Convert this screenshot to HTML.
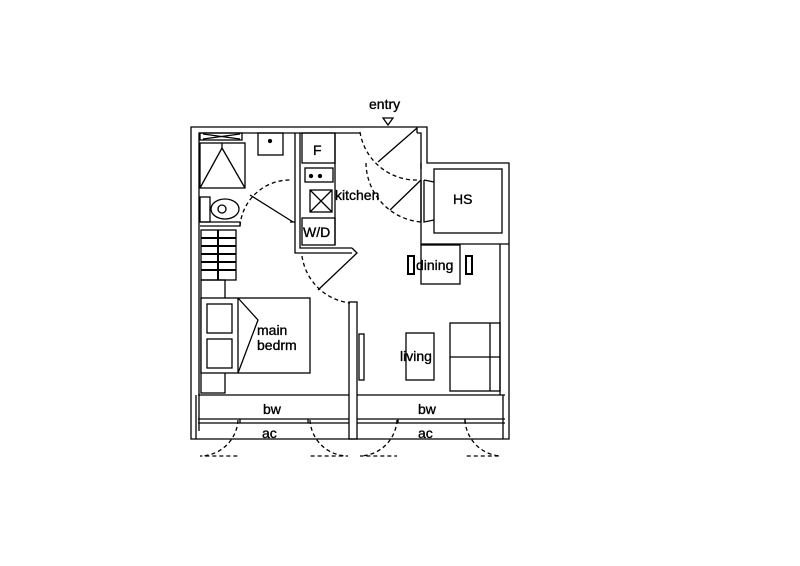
<!DOCTYPE html>
<html><head><style>
body{margin:0;background:#fff}
svg{display:block}
text{font-family:"Liberation Sans",Arial,sans-serif;font-size:14px;fill:#000;stroke:#000;stroke-width:0.35}
</style></head><body>
<svg width="800" height="566" viewBox="0 0 800 566" xmlns="http://www.w3.org/2000/svg">
<g fill="none" stroke="#000" stroke-width="1.3">
<path d="M191,439 V127 H427 V163 H509 V439 Z"/>
<path d="M199,431 V133 H360"/>
<path d="M417,133 H421 V245"/>
<path d="M421,169 V163"/>
<path d="M500,244 V395"/>
<path d="M421,244 H509"/>
<rect x="200" y="133" width="42" height="7"/>
<path d="M203,134 L240,139 M203,139 L240,134"/>
<rect x="200" y="143" width="45" height="45"/>
<path d="M200,188 L222,148 L245,188 M222,148 L222,143"/>
<rect x="258" y="133" width="25" height="22"/>
<circle cx="270" cy="141" r="1.5" fill="#000"/>
<rect x="200" y="197" width="10" height="25"/>
<ellipse cx="225" cy="209" rx="14" ry="10"/>
<circle cx="222" cy="209" r="4"/>
<path d="M200,222 H240 V226 H200 M290,222 H295"/>
<path d="M240,226 A50,50 0 0 1 290,180" stroke-dasharray="4,3"/>
<path d="M250,195 L293,222"/>
<path d="M295,133 V253 H352 M300,133 V248 H352"/>
<rect x="302" y="133" width="33" height="30"/>
<rect x="305" y="168" width="28" height="14"/>
<circle cx="311" cy="176" r="1.5" fill="#000"/><circle cx="320" cy="176" r="1.5" fill="#000"/>
<rect x="310" y="190" width="22" height="22"/>
<path d="M310,190 L332,212 M332,190 L310,212"/>
<rect x="302" y="218" width="33" height="27"/>
<path d="M335,133 V245"/>
<path d="M352,248 L357,253 L318,290"/>
<path d="M302,256 A55,55 0 0 0 350,303" stroke-dasharray="4,3"/>
<path d="M417,127 V133 M378,162 L417,128"/>
<path d="M360,132 A57,57 0 0 0 418,180" stroke-dasharray="4,3"/>
<path d="M383,118 H393 L388,125 Z"/>
<path d="M421,180 L390,210 M421,180 V222 M424,180 V222 L434,220 M424,180 L434,182"/>
<path d="M366,163 A60,60 0 0 0 421,222" stroke-dasharray="4,3"/>
<rect x="434" y="169" width="68" height="64"/>
<rect x="421" y="245" width="39" height="39"/>
<rect x="408" y="256" width="6" height="18" stroke-width="2"/>
<rect x="466" y="256" width="6" height="18" stroke-width="2"/>
<rect x="201" y="230" width="35" height="50"/>
<path d="M218,230 V280 M201,238 H236 M201,246 H236 M201,254 H236 M201,262 H236 M201,270 H236" stroke-width="2"/>
<rect x="201" y="280" width="24" height="113"/>
<rect x="201" y="298" width="109" height="75" fill="#fff"/>
<rect x="207" y="304" width="25" height="29"/>
<rect x="207" y="339" width="25" height="29"/>
<path d="M238,298 L258,320 L238,373 M238,298 V373"/>
<rect x="349" y="302" width="8" height="137"/>
<rect x="359" y="334" width="5" height="46"/>
<rect x="406" y="333" width="28" height="47"/>
<rect x="450" y="323" width="50" height="68"/>
<path d="M490,323 V391 M450,357 H500"/>
<path d="M198,395 H349 M357,395 H505 M198,419 H349 M357,419 H505 M198,423 H349 M357,423 H505 M196,395 V439 M503,395 V439"/>
<path d="M240,419 V423 M308,419 V423 M398,419 V423 M465,419 V423"/>
<path d="M238,420 A38,38 0 0 1 200,456 H238" stroke-dasharray="4,3"/>
<path d="M310,420 A38,38 0 0 0 348,456 H310" stroke-dasharray="4,3"/>
<path d="M397,420 A38,38 0 0 1 360,456 H397" stroke-dasharray="4,3"/>
<path d="M465,420 A38,38 0 0 0 500,456 H465" stroke-dasharray="4,3"/>
</g>
<g>
<text x="369" y="109">entry</text>
<text x="313" y="155">F</text>
<text x="335" y="200">kitchen</text>
<text x="303" y="237">W/D</text>
<text x="453" y="204" font-size="15">HS</text>
<text x="416" y="270">dining</text>
<text x="257" y="335">main</text>
<text x="257" y="350">bedrm</text>
<text x="400" y="361">living</text>
<text x="263" y="414">bw</text>
<text x="418" y="414">bw</text>
<text x="262" y="438">ac</text>
<text x="418" y="438">ac</text>
</g>
</svg>
</body></html>
